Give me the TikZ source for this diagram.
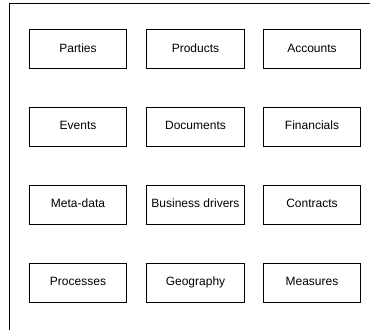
\documentclass[tikz,border=0pt]{standalone}
\usepackage{fontspec}
\setmainfont{Liberation Sans}
\begin{document}
\begin{tikzpicture}[x=1pt,y=-1pt,
  cell/.style={draw=black,line width=0.9pt,minimum width=97.5pt,minimum height=39pt,inner sep=0pt,text height=8.8pt,text depth=2.6pt,font=\fontsize{12}{14}\selectfont},
  frame/.style={draw=black,line width=1pt}]
\useasboundingbox (0,0) rectangle (373,330);
\coordinate (fr) at (370,3.5);
\coordinate (ftl) at (9.5,3.5);
\coordinate (fb) at (9.5,330);
\draw[frame] (fr) -- (ftl) -- (fb);
\node[cell] (parties) at (78,49) {Parties};
\node[cell] (products) at (195.5,49) {Products};
\node[cell] (accounts) at (312,49) {Accounts};
\node[cell] (events) at (78,126.5) {Events};
\node[cell] (documents) at (195.5,126.5) {Documents};
\node[cell] (financials) at (312,126.5) {Financials};
\node[cell] (metadata) at (78,204.5) {Meta-data};
\node[cell] (business) at (195.5,204.5) {Business drivers};
\node[cell] (contracts) at (312,204.5) {Contracts};
\node[cell] (processes) at (78,282.5) {Processes};
\node[cell] (geography) at (195.5,282.5) {Geography};
\node[cell] (measures) at (312,282.5) {Measures};
\end{tikzpicture}
\end{document}
